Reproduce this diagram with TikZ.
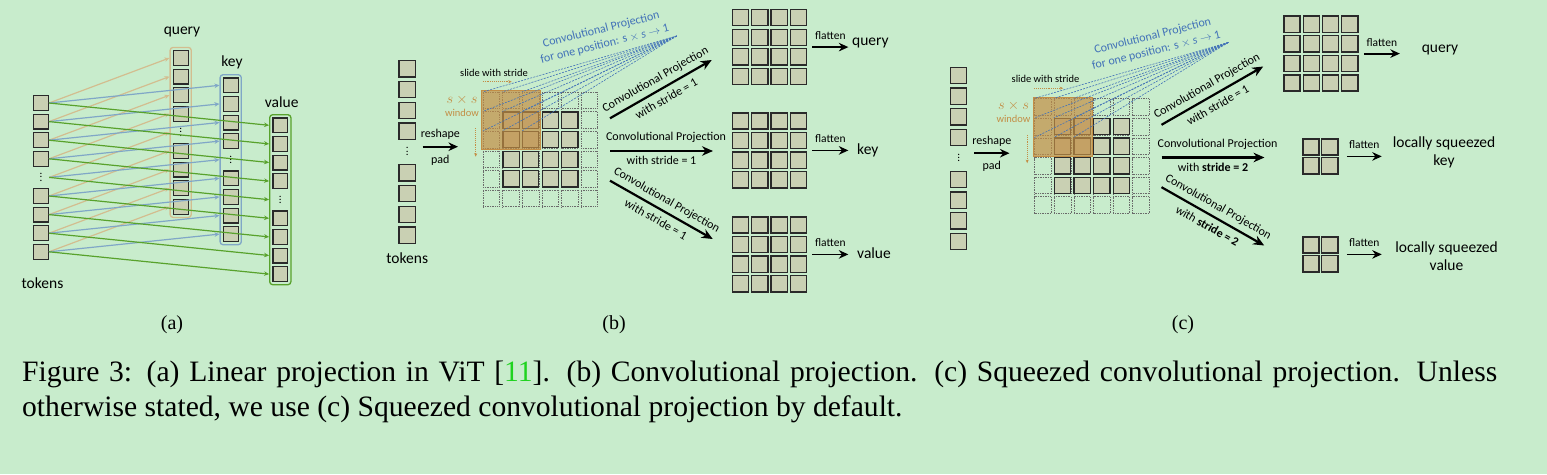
\documentclass[tikz,border=0pt]{standalone}
\usepackage{fontspec}
\setmainfont{Liberation Serif}
\newfontfamily\lblfont{Carlito}
\usetikzlibrary{positioning,arrows.meta,fit,calc}
\definecolor{bgc}{HTML}{C8ECCC}
\definecolor{ink}{HTML}{2A2A2A}
\definecolor{cellc}{HTML}{C9D0B3}
\definecolor{qcol}{HTML}{D3BD8F}
\definecolor{kcol}{HTML}{80A7C7}
\definecolor{vcol}{HTML}{58A22C}
\definecolor{winc}{HTML}{C38E45}
\definecolor{fanc}{HTML}{4272B8}
\definecolor{citec}{HTML}{1FD31F}
\newcommand{\vdt}{\vbox{\baselineskip=3.2pt\lineskiplimit=-10pt\hbox{.}\hbox{.}\hbox{.}}}

\begin{document}
\begin{tikzpicture}[x=1pt, y=-1pt,
  font=\lblfont,
  cell/.style={draw=ink, fill=cellc, line width=1.3pt, minimum size=16.2pt, inner sep=0pt},
  tcell/.style={cell, minimum size=14.8pt, line width=1.2pt},
  pcell/.style={draw=ink!70, densely dotted, line width=0.7pt, minimum size=16.6pt, inner sep=0pt},
  dots/.style={minimum width=16pt, inner sep=0pt, font=\lblfont\fontsize{11}{11}\selectfont},
  colbox/.style={draw, rounded corners=3pt, line width=1.3pt, inner sep=2.6pt},
  lab/.style={font=\lblfont\fontsize{15.5}{18.5}\selectfont, inner sep=1pt},
  note/.style={font=\lblfont\fontsize{12}{14}\selectfont, inner sep=1.5pt},
  fl/.style={font=\lblfont\fontsize{11.5}{13}\selectfont, inner sep=1pt},
  minor/.style={font=\lblfont\fontsize{10.5}{12.7}\selectfont, inner sep=1pt},
  fantext/.style={font=\lblfont\fontsize{12}{15}\selectfont, text=fanc, align=center, inner sep=0pt},
  lin/.style={line width=1.2pt, -{Stealth[length=5pt, width=4.5pt]}},
  proj/.style={line width=2.2pt, -{Stealth[length=11pt, width=9.5pt]}},
  flat/.style={line width=1.8pt, -{Stealth[length=9.5pt, width=8.5pt]}},
  win/.style={fill=winc, fill opacity=0.7, draw=winc, line width=0.6pt, inner sep=1.2pt},
  slide/.style={densely dotted, draw=winc, line width=0.9pt, -{Stealth[length=3.5pt, width=3pt]}},
  fanline/.style={draw=fanc, line width=0.6pt, dash pattern=on 2pt off 1.2pt},
  sub/.style={font=\rmfamily\fontsize{20}{24}\selectfont, inner sep=0pt},
]
\fill[bgc] (0,0) rectangle (1547,474);
\useasboundingbox (0,0) rectangle (1547,474);
% -- (a) linear projection
\foreach \col/\cx/\cy in {t/41/103, q/180.7/58, k/230.7/85.3, v/280.3/125.3} {
  \foreach \i in {0,1,2,3,5,6,7,8}
    \node[tcell] (\col\i) at (\cx, \cy+18.6*\i) {};
  \node[dots] (\col4) at (\cx, \cy+18.6*4) {\vdt};
}
\node[colbox, draw=qcol] (qbx) [fit=(q0)(q8)] {};
\node[colbox, draw=kcol] (kbx) [fit=(k0)(k8)] {};
\node[colbox, draw=vcol] (vbx) [fit=(v0)(v8)] {};
\node[lab] (qlab) at (182,32) {query};
\node[lab] (klab) at (232,62) {key};
\node[lab] (vlab) at (281.7,101.7) {value};
\node[lab] (tlab) at (42.5,283.3) {tokens};
\foreach \tgt/\clr in {q/qcol, k/kcol, v/vcol}
  \foreach \i in {0,...,8}
    \draw[lin, \clr] (t\i.east) -- (\tgt\i.center -| \tgt bx.west);
% -- (b) and (c): tokens, padded grid and the three projections
\foreach \p/\dx/\dy/\st in {b/0/0/{with stride = 1}, c/551.5/6.5/{with \textbf{stride = 2}}} {
\begin{scope}[shift={(\dx,\dy)}]
  \foreach \i in {0,1,2,3,5,6,7,8}
    \node[cell] (\p t\i) at (407.2, 68.8+20.8*\i) {};
  \node[dots] (\p t4) at (407.2, 151.5) {\vdt};
  % 6x6 grid, padding ring dotted
  \foreach \gi in {0,...,5}
    \foreach \gj in {0,...,5}
      \node[pcell] (\p g\gi\gj) at (491.5+19.6*\gj, 100.5+19.6*\gi) {};
  \foreach \gi in {1,...,4}
    \foreach \gj in {1,...,4}
      \node[cell] (\p g\gi\gj) at (491.5+19.6*\gj, 100.5+19.6*\gi) {};
  \node[win] (\p win) [fit=(\p g00)(\p g22)] {};
  % one position
  \coordinate (\p fan) at (676.7,36);
  \foreach \gi in {0,1,2}
    \foreach \gj in {0,1,2}
      \draw[fanline] (\p fan) -- (\p g\gi\gj.north west);
  \node[fantext, rotate=14] (\p fantxt) at (603,37)
    {Convolutional Projection\\for one position: s $\times$ \textit{s} $\rightarrow$ 1};
  % sliding window
  \coordinate (\p sl) at (482.7,81.7);
  \draw[slide] (\p sl) -- ([xshift=29pt]\p sl);
  \node[minor] (\p sltxt) at (494,72.5) {slide with stride};
  \coordinate (\p dn) at (475.7,128.3);
  \draw[slide] (\p dn) -- ([yshift=-28.4pt]\p dn);
  \node[minor, text=winc, align=center] (\p wtxt) at (462,105.5)
    {{\fontsize{15}{13}\selectfont$s\times s$}\\window};
  % reshape
  \coordinate (\p rs0) at (422.7,146.7);
  \coordinate (\p rs1) at (458,146.7);
  \draw[flat] (\p rs0) -- node[note, above=4.5pt] {reshape} node[note, below=6pt] {pad} (\p rs1);
  % projections
  \coordinate (\p u0) at (610,118.3); \coordinate (\p u1) at (711.7,60);
  \coordinate (\p m0) at (610,151);   \coordinate (\p m1) at (713,151);
  \coordinate (\p d0) at (610,180.7); \coordinate (\p d1) at (712.7,239);
  \draw[proj] (\p u0) -- node[note, sloped, above=3pt] {Convolutional Projection}
    node[note, sloped, below=4pt] {with stride = 1} (\p u1);
  \draw[proj] (\p m0) -- node[note, above=5.5pt, xshift=4.5pt] {Convolutional Projection}
    node[note, below=3pt] {\st} (\p m1);
  \draw[proj] (\p d0) -- node[note, sloped, above=3pt] {Convolutional Projection}
    node[note, sloped, below=4pt] {\st} (\p d1);
\end{scope}
}
\node[lab] (btok) at (407.2,258.3) {tokens};
% -- (b) outputs
\foreach \o/\oy in {q/17.7, k/121, v/225} {
  \foreach \gi in {0,...,3}
    \foreach \gj in {0,...,3}
      \node[cell] (bo\o\gi\gj) at (740.5+19.3*\gj, \oy+19.6*\gi) {};
  \node[inner sep=0pt] (bo\o) [fit=(bo\o00)(bo\o33)] {};
  \draw[flat] ([xshift=5pt]bo\o.east) -- node[fl, above=5.5pt] {flatten} ([xshift=41pt]bo\o.east);
}
\node[lab, anchor=west] (bql) at (851,43.3) {query};
\node[lab, anchor=west] (bkl) at (856,150) {key};
\node[lab, anchor=west] (bvl) at (856,253.5) {value};
% -- (c) outputs
\foreach \gi in {0,...,3}
  \foreach \gj in {0,...,3}
    \node[cell] (coq\gi\gj) at (1292+19.3*\gj, 24.2+19.6*\gi) {};
\node[inner sep=0pt] (coq) [fit=(coq00)(coq33)] {};
\foreach \o/\oy in {k/147, v/245} {
  \foreach \gi in {0,1}
    \foreach \gj in {0,1}
      \node[cell] (co\o\gi\gj) at (1311+18.8*\gj, \oy+18.8*\gi) {};
  \node[inner sep=0pt] (co\o) [fit=(co\o00)(co\o11)] {};
  \draw[flat] ([xshift=8pt]co\o.east) -- node[fl, above=5.5pt] {flatten} ([xshift=43pt]co\o.east);
}
\draw[flat] ([xshift=5pt]coq.east) -- node[fl, above=5.5pt] {flatten} ([xshift=41pt]coq.east);
\node[lab] (cql) at (1440,50) {query};
\node[lab, align=center] (ckl) at (1444,152.5) {locally squeezed\\key};
\node[lab, align=center] (cvl) at (1446.5,256) {locally squeezed\\value};
% -- captions
\node[sub] (capa) at (172,325) {(a)};
\node[sub] (capb) at (614,325) {(b)};
\node[sub] (capc) at (1183,325) {(c)};
\node[anchor=north west, text width=1475pt, align=justify, inner sep=0pt,
      font=\rmfamily\fontsize{29.6}{35}\selectfont] (cap) at (22,361)
  {Figure 3: (a) Linear projection in ViT [{\color{citec}11}]. (b) Convolutional projection.
   (c) Squeezed convolutional projection. Unless\linebreak otherwise stated, we use (c)
   Squeezed convolutional projection by default.};
\end{tikzpicture}
\end{document}
